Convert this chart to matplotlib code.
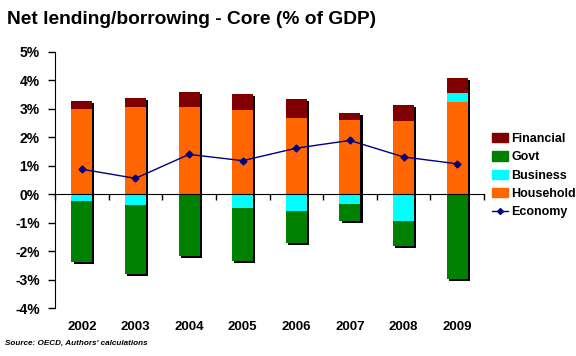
import numpy as np
import matplotlib.pyplot as plt
from matplotlib.patches import Patch
from matplotlib.lines import Line2D

plt.rcParams['font.family'] = ['Liberation Sans', 'DejaVu Sans']
plt.rcParams['font.weight'] = 'bold'

# dados (% do PIB)
anos = ['2002', '2003', '2004', '2005', '2006', '2007', '2008', '2009']
household = [2.98, 3.05, 3.05, 2.96, 2.67, 2.60, 2.56, 3.23]
business = [-0.25, -0.39, 0.0, -0.48, -0.60, -0.35, -0.95, 0.32]
govt = [-2.13, -2.42, -2.16, -1.86, -1.11, -0.60, -0.86, -2.97]
financial = [0.29, 0.32, 0.53, 0.55, 0.66, 0.25, 0.56, 0.52]
economy = [0.87, 0.55, 1.39, 1.17, 1.61, 1.88, 1.30, 1.06]

c_fin = '#800000'
c_govt = '#008000'
c_bus = '#00FFFF'
c_hh = '#FF6600'
c_eco = '#000080'

x = np.arange(len(anos))
w = 0.39
hh = np.array(household)
bus = np.array(business)
gv = np.array(govt)
fin = np.array(financial)

bus_pos = np.where(bus > 0, bus, 0)
bus_neg = np.where(bus < 0, bus, 0)

fig = plt.figure(figsize=(5.76, 3.56), dpi=100)
ax = fig.add_axes([0.0955, 0.1348, 0.7448, 0.7205])

# sombra preta das barras
dx, dy = 0.04, 0.07
topo = hh + bus_pos + fin
fundo = bus_neg + gv
ax.bar(x + dx, topo, w, bottom=-dy, color='black', zorder=1)
ax.bar(x + dx, fundo, w, bottom=-dy, color='black', zorder=1)

# barras positivas
ax.bar(x, hh, w, color=c_hh, zorder=2)
ax.bar(x, bus_pos, w, bottom=hh, color=c_bus, zorder=2)
ax.bar(x, fin, w, bottom=hh + bus_pos, color=c_fin, zorder=2)
# barras negativas
ax.bar(x, bus_neg, w, color=c_bus, zorder=2)
ax.bar(x, gv, w, bottom=bus_neg, color=c_govt, zorder=2)

ax.plot(x, economy, color=c_eco, lw=1, marker='D', ms=3.5, zorder=4)

ax.set_xlim(-0.5, len(anos) - 0.5)
ax.set_ylim(-4, 5)
ax.set_yticks(range(-4, 6))
ax.set_yticklabels([f'{v}%' for v in range(-4, 6)], fontsize=10, fontweight='bold')
ax.tick_params(axis='y', direction='out', length=5, width=1, pad=6)

ax.spines['top'].set_visible(False)
ax.spines['right'].set_visible(False)
ax.spines['bottom'].set_position(('data', 0))
ax.spines['bottom'].set_zorder(3)
ax.set_xticks(np.arange(len(anos) + 1) - 0.5)
ax.set_xticklabels([])
ax.tick_params(axis='x', direction='out', length=4, width=1)

for i, a in enumerate(anos):
    ax.text(i, -4.45, a, ha='center', va='top', fontsize=9.5, fontweight='bold')

fig.text(0.012, 0.945, 'Net lending/borrowing - Core (% of GDP)', fontsize=13.8,
         fontweight='bold', ha='left', va='center')
fig.text(0.008, 0.035, "Source: OECD, Authors' calculations", fontsize=5.9,
         fontweight='bold', style='italic', ha='left', va='center')

handles = [Patch(color=c_fin, label='Financial'),
           Patch(color=c_govt, label='Govt'),
           Patch(color=c_bus, label='Business'),
           Patch(color=c_hh, label='Household'),
           Line2D([], [], color=c_eco, lw=1, marker='D', ms=3, label='Economy')]
leg = fig.legend(handles=handles, loc='upper left', bbox_to_anchor=(0.845, 0.64),
                 frameon=False, prop={'weight': 'bold', 'size': 9},
                 handlelength=1.3, handleheight=0.75, handletextpad=0.25,
                 labelspacing=0.5, borderaxespad=0)

fig.savefig('out.png', dpi=100)
